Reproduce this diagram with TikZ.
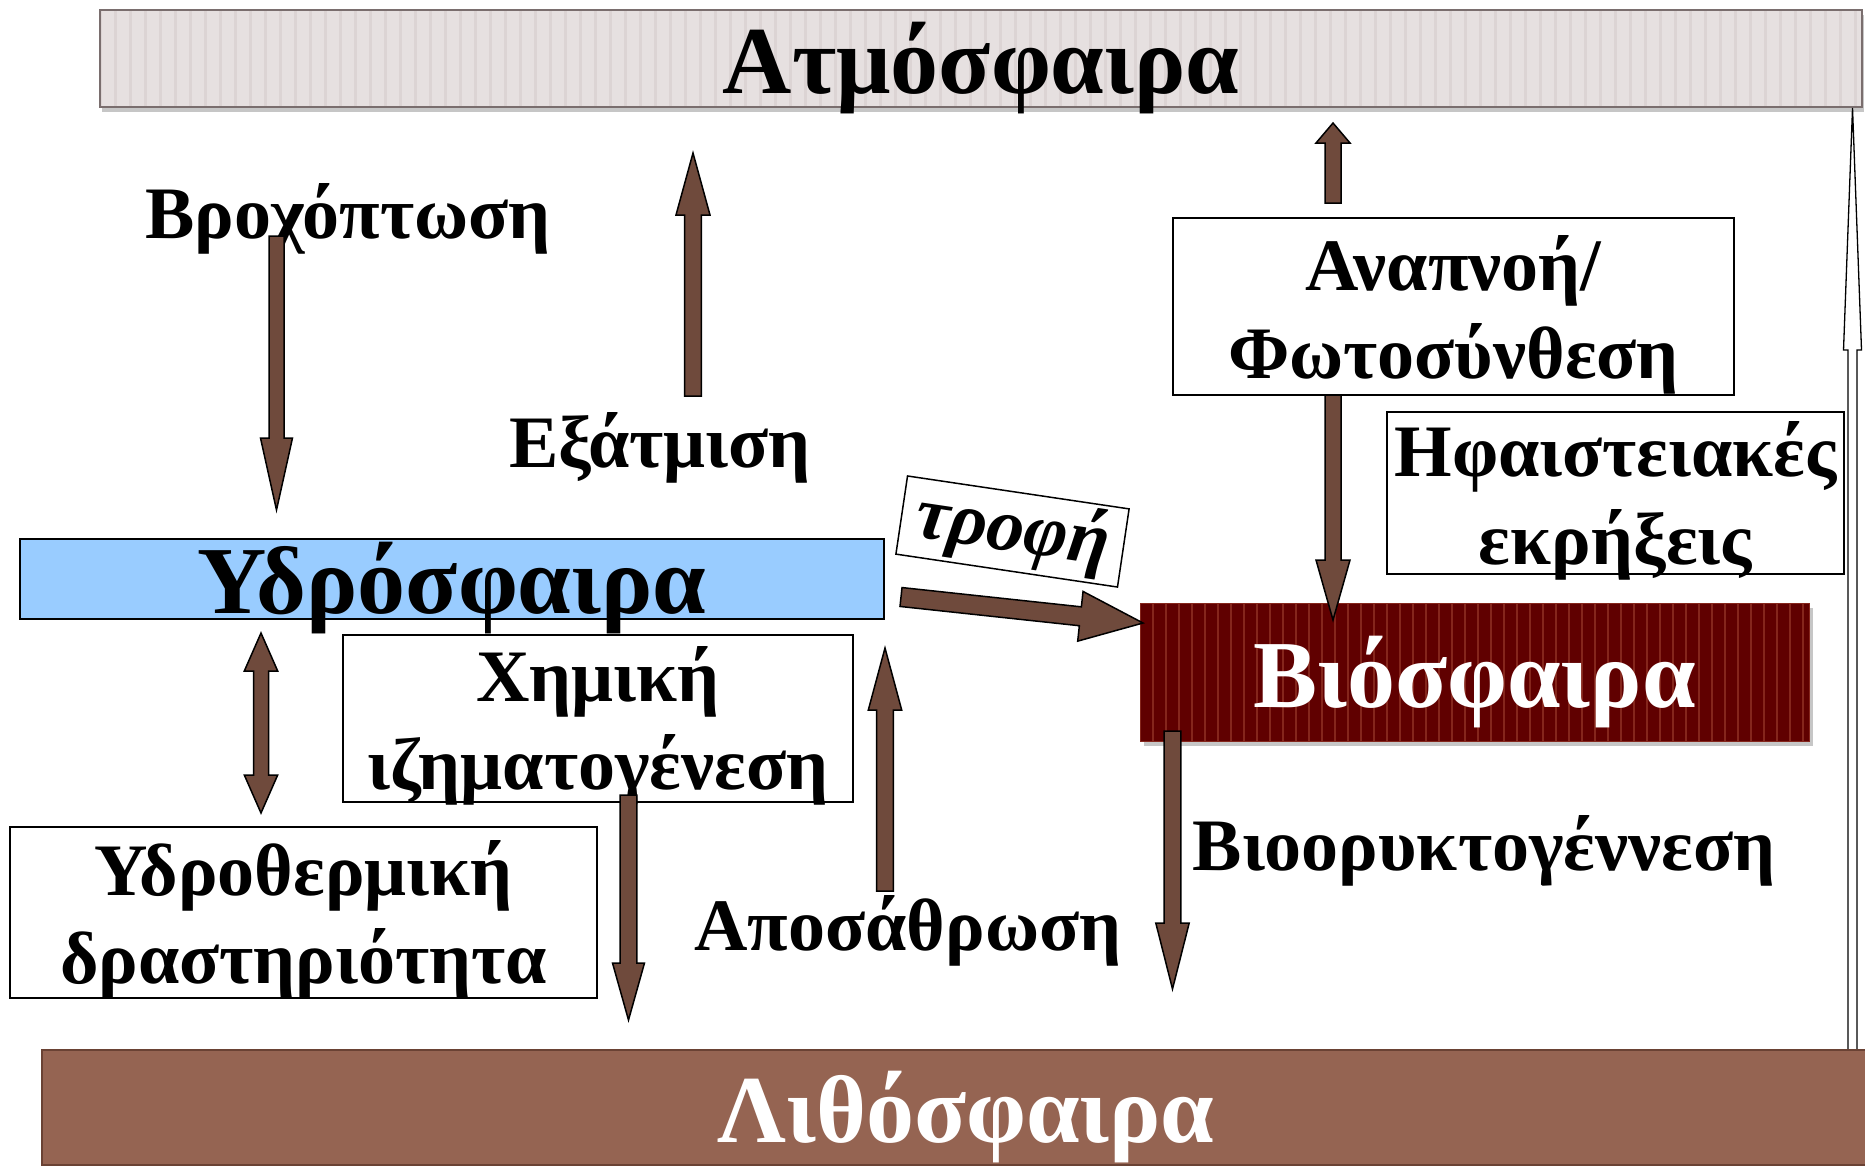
\documentclass[tikz,border=0pt]{standalone}
\usepackage{fontspec}
\setmainfont{Liberation Serif}
\usetikzlibrary{calc,shadows}
\definecolor{brn}{HTML}{6F4A3C}
\definecolor{litho}{HTML}{956452}
\definecolor{lithoedge}{HTML}{6A4234}
\definecolor{hydro}{HTML}{99CCFF}
\definecolor{bio}{HTML}{600000}
\definecolor{biostripe}{HTML}{85261C}
\definecolor{atm}{HTML}{E6E0E0}
\definecolor{atmstripe}{HTML}{DCD4D4}
\definecolor{atmedge}{HTML}{7A6E6E}
\tikzset{
  lbl/.style={font=\fontsize{74}{88}\selectfont\bfseries, inner sep=0pt},
  title/.style={font=\fontsize{96}{110}\selectfont\bfseries, inner sep=0pt},
  textbox/.style={lbl, draw=black, line width=1.5pt, fill=white, align=center},
  barrow/.style={fill=brn, draw=black, line width=1.5pt, line join=miter},
  warrow/.style={fill=white, draw=black, line width=1.3pt, line join=miter},
  vstripes/.style n args={3}{path picture={
    \foreach \k in {0,...,150}{\draw[#1, line width=#3]
      ([xshift=\k*#2]path picture bounding box.south west) --
      ([xshift=\k*#2]path picture bounding box.north west);}}},
}
\newcommand\blockv[6]{\filldraw[barrow] ({#1-#5},#2) -- ({#1-#5},#3) -- ({#1-#6},#3) -- (#1,#4) -- ({#1+#6},#3) -- ({#1+#5},#3) -- ({#1+#5},#2) -- cycle;}
\begin{document}
\begin{tikzpicture}[x=1pt,y=-1pt]
\useasboundingbox (0,0) rectangle (1865,1168);
% Atmosphere
\node[title, minimum width=1762pt, text height=83pt, text depth=14pt,
  fill=atm, draw=atmedge, line width=1.5pt, vstripes={atmstripe}{15pt}{3pt},
  drop shadow={shadow xshift=2pt, shadow yshift=-5pt, opacity=0.45}]
  (atm) at (981,58.5) {Ατμόσφαιρα};
% right white arrow
\filldraw[warrow] (1848,1050) -- (1848,350) -- (1843.5,350) -- (1852.5,108) -- (1861.5,350) -- (1857,350) -- (1857,1050) -- cycle;
% Lithosphere
\node[title, text=white, minimum width=1848pt, text height=92pt, text depth=23pt,
  fill=litho, draw=lithoedge, line width=2.5pt] (lith) at (966,1107.5) {Λιθόσφαιρα};
% Hydrosphere
\node[title, minimum width=864pt, text height=74pt, text depth=6pt,
  fill=hydro, draw=black, line width=1.5pt] (hyd) at (452,579) {Υδρόσφαιρα};
% Chemical sedimentation
\node[textbox, minimum width=510pt, text height=154pt, text depth=13pt]
  (chem) at (598,718.5) {Χημική\\ιζηματογένεση};
% Hydrothermal
\node[textbox, minimum width=587pt, text height=156pt, text depth=15pt]
  (therm) at (303.5,912.5) {Υδροθερμική\\δραστηριότητα};
% Respiration / Photosynthesis
\node[textbox, minimum width=561pt, text height=160pt, text depth=17pt]
  (resp) at (1453.5,306.5) {Αναπνοή/\\Φωτοσύνθεση};
% Volcanic
\node[textbox, minimum width=457pt, text height=152pt, text depth=10pt]
  (volc) at (1615.5,493) {Ηφαιστειακές\\εκρήξεις};
% Biosphere
\node[title, text=white, minimum width=669pt, text height=104pt, text depth=34pt,
  fill=bio, draw=biostripe, line width=1pt, vstripes={biostripe}{13pt}{1.5pt},
  drop shadow={shadow xshift=4pt, shadow yshift=-5pt, opacity=0.45}]
  (bio) at (1474.5,672) {Βιόσφαιρα};
% trophi box
\node[lbl, draw=black, line width=1.5pt, fill=white, rotate=-8.45,
  minimum width=224pt, minimum height=79pt, font=\fontsize{75}{88}\selectfont\bfseries\itshape]
  (troph) at (1012.5,531.5) {τροφή};
% free labels
\node[lbl, anchor=base] (rain) at (348,238) {Βροχόπτωση};
\node[lbl, anchor=base] (evap) at (660,467) {Εξάτμιση};
\node[lbl, anchor=base] (weath) at (908,950) {Αποσάθρωση};
\node[lbl, anchor=base] (biomin) at (1484,870) {Βιοορυκτογέννεση};
% arrows
\blockv{276.5}{236}{438}{510}{7.5}{16}
\blockv{693}{396}{215}{153}{8.3}{17}
\blockv{1333}{203}{143}{123}{8}{17}
\blockv{1333}{395}{560}{620}{8}{17}
\blockv{628.5}{795}{963}{1020}{8.3}{16}
\blockv{885}{891}{710}{648}{8.3}{16.7}
\blockv{1172.5}{731}{923}{989}{8.3}{16.7}
% double arrow
\filldraw[barrow] (261,633) -- (277.7,671) -- (268.5,671) -- (268.5,775) -- (277.7,775) -- (261,813)
  -- (244.3,775) -- (253.5,775) -- (253.5,671) -- (244.3,671) -- cycle;
% food arrow
\coordinate (tA) at (901,597);
\coordinate (tB) at (1143,623);
\coordinate (hb) at ($(tB)!63pt!(tA)$);
\filldraw[barrow] ($(tA)!9.5pt!90:(tB)$) -- ($(hb)!9.5pt!90:(tB)$) -- ($(hb)!25pt!90:(tB)$)
  -- (tB) -- ($(hb)!25pt!-90:(tB)$) -- ($(hb)!9.5pt!-90:(tB)$) -- ($(tA)!9.5pt!-90:(tB)$) -- cycle;
\end{tikzpicture}
\end{document}
